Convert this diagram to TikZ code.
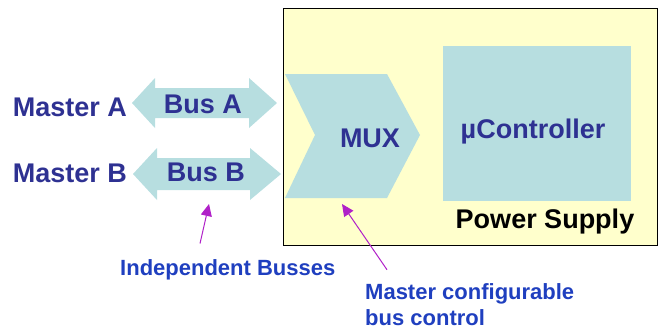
\documentclass[tikz,border=0pt]{standalone}
\usepackage{fontspec}
\setmainfont{Liberation Sans}
\usetikzlibrary{arrows.meta,positioning}
\definecolor{navytext}{HTML}{2E3192}
\definecolor{labelblue}{HTML}{1F3FBF}
\definecolor{busfill}{HTML}{B7DEE0}
\definecolor{psfill}{HTML}{FFFFCC}
\definecolor{pointer}{HTML}{B020C8}

\begin{document}
\begin{tikzpicture}[
    x=1pt, y=-1pt,
    inner sep=0pt, %text only nodes
    bigtxt/.style={text=navytext,font=\fontsize{27}{30}\selectfont\bfseries},
    smalltxt/.style={text=labelblue,font=\fontsize{22}{26}\selectfont\bfseries,
        align=left},
    busarrow/.style={fill=busfill,draw=none},
    pointarrow/.style={draw=pointer,line width=1pt,->},
    >={Triangle[length=12pt,width=11pt]},
    ]
    \useasboundingbox (0,0) rectangle (661,335);

    %Power supply box
    \draw[fill=psfill,line width=1pt] (283,8) rectangle (657,245);
    \node[text=black,font=\fontsize{27}{30}\selectfont\bfseries] (ps) at (545,222) {Power Supply};

    %MUX
    \fill[busfill] (285,74) -- (387,74) -- (420,135) -- (387,198)
        -- (285,198) -- (315,135) -- cycle;
    \node[bigtxt] (mux) at (370,138) {MUX};

    %uController
    \fill[busfill] (443,46) rectangle (631,201);
    \node[bigtxt] (uc) at (533,132) {µController};

    %Bus A
    \fill[busarrow] (132,103) -- (155,78) -- (155,88) -- (249,88) -- (249,78)
        -- (277,103) -- (249,128) -- (249,118) -- (155,118) -- (155,128) -- cycle;
    \node[bigtxt] (busa) at (203,104) {Bus A};
    \node[bigtxt] (masta) at (70,107) {Master A};

    %Bus B
    \fill[busarrow] (133,174) -- (157,148) -- (157,158) -- (250,158) -- (250,148)
        -- (281,174) -- (250,200) -- (250,190) -- (157,190) -- (157,200) -- cycle;
    \node[bigtxt] (busb) at (206,172) {Bus B};
    \node[bigtxt] (mastb) at (70,173) {Master B};

    %labels
    \node[smalltxt,anchor=west] (indep) at (120,270) {Independent Busses};
    \node[smalltxt,anchor=west] (conf) at (365,305) {Master configurable\\bus control};
    \coordinate (busbfoot) at (209,204);
    \coordinate (muxfoot) at (342,204);

    %pointers
    \draw[pointarrow] (indep.north -| 200,0) ++(0,-16) -- (busbfoot);
    \draw[pointarrow] (conf.north west) ++(22,-14) -- (muxfoot);

\end{tikzpicture}
\end{document}
